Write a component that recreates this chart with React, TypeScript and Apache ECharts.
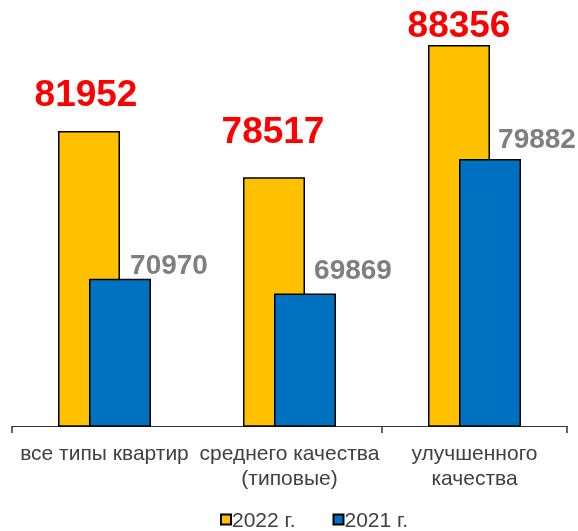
import React, { useEffect, useRef } from "react";
import * as echarts from "echarts";

const categories = ["все типы квартир", "среднего качества\n(типовые)", "улучшенного\nкачества"];
const series2022 = [81952, 78517, 88356];
const series2021 = [70970, 69869, 79882];
const seriesNames = ["2022 г.", "2021 г."];

// label placement tweaks (style only)
const label2022Offsets = [[-3, -19], [-1, -28], [0, -2]];
const label2021Offsets = [[49, 0], [48, -10], [47, -6]];

const FONT = "'Liberation Sans', Arial, sans-serif";

export default function App() {
  const ref = useRef<HTMLDivElement>(null);
  useEffect(() => {
    const chart = echarts.init(ref.current!, undefined, { renderer: "svg" });
    chart.setOption({
      animation: false,
      textStyle: { fontFamily: FONT },
      grid: { left: 12, right: 11, top: 23, bottom: 105, containLabel: false },
      legend: {
        data: seriesNames,
        left: 215,
        top: 509,
        padding: [0, 5, 0, 5],
        icon: "rect",
        itemWidth: 10,
        itemHeight: 10,
        itemGap: 37,
        textStyle: { fontSize: 21, color: "#404040", fontFamily: FONT, padding: [0, 0, 0, -4] },
      },
      xAxis: {
        type: "category",
        data: categories,
        axisLine: { lineStyle: { color: "#333", width: 1 } },
        axisTick: { show: true, alignWithLabel: false, interval: 1, length: 7, lineStyle: { color: "#333", width: 1.5 } },
        axisLabel: { interval: 0, fontSize: 21, color: "#404040", lineHeight: 25, margin: 14, fontFamily: FONT },
      },
      yAxis: {
        type: "value",
        min: 60000,
        max: 90000,
        show: false,
        splitLine: { show: false },
      },
      series: [
        {
          name: seriesNames[0],
          type: "bar",
          data: series2022.map((v, i) => ({ value: v, label: { offset: label2022Offsets[i] } })),
          barWidth: 62,
          barGap: "-50%",
          itemStyle: { color: "#FFC000", borderColor: "#000", borderWidth: 1.5 },
          label: {
            show: true,
            position: "top",
            distance: 0,
            fontSize: 37,
            fontWeight: "bold",
            color: "#FF0000",
            fontFamily: FONT,
          },
        },
        {
          name: seriesNames[1],
          type: "bar",
          data: series2021.map((v, i) => ({ value: v, label: { offset: label2021Offsets[i] } })),
          barWidth: 62,
          itemStyle: { color: "#0070C0", borderColor: "#000", borderWidth: 1.5 },
          label: {
            show: true,
            position: "top",
            distance: 0,
            fontSize: 28,
            fontWeight: "bold",
            color: "#7F7F7F",
            fontFamily: FONT,
          },
        },
      ],
    });
    return () => chart.dispose();
  }, []);
  return <div ref={ref} style={{ position: "fixed", left: 0, top: 0, width: 578, height: 531 }} />;
}
